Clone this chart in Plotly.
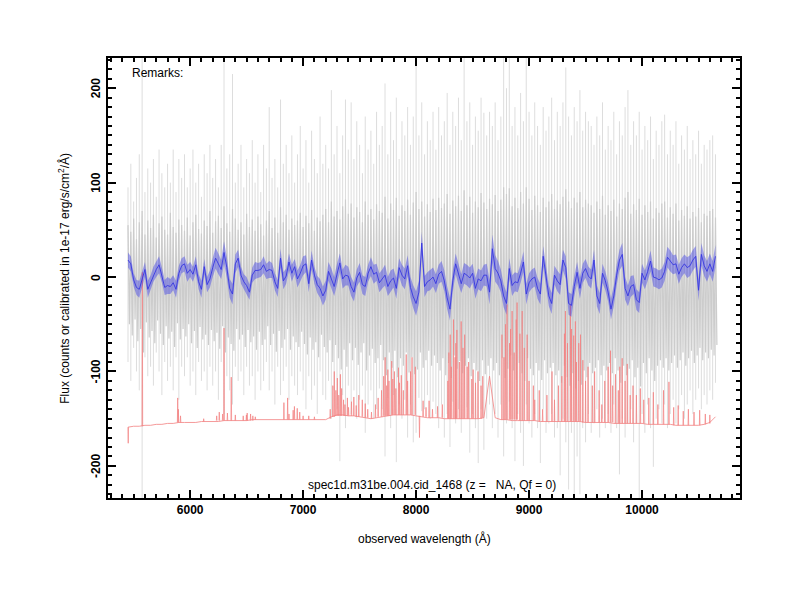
"""
Espectro 1D (DEIMOS) con flujo crudo, espectro suavizado y cielo escalado.
"""
import numpy as np
import plotly.graph_objects as go

# rejilla de longitudes de onda (Angstrom)
wave = np.arange(5450, 10651, 25)

# flujo crudo: extremos por bin (bigotes claros) y núcleo denso
grey_hi = [
    95, 120, 80, 105, 130, 232, 90, 115, 100, 125,
    85, 135, 110, 95, 120, 100, 135, 90, 125, 105,
    130, 95, 115, 135, 100, 120, 85, 130, 110, 140,
    105, 125, 95, 140, 232, 115, 130, 215, 100, 120,
    140, 95, 125, 110, 145, 100, 130, 90, 140, 115,
    180, 105, 125, 95, 188, 120, 140, 110, 150, 100,
    130, 160, 115, 145, 100, 155, 125, 110, 170, 120,
    140, 115, 198, 130, 160, 110, 150, 188, 135, 185,
    125, 165, 140, 110, 170, 135, 155, 120, 175, 140,
    160, 205, 130, 175, 145, 190, 125, 165, 150, 180,
    140, 170, 232, 150, 185, 130, 165, 145, 175, 135,
    180, 150, 165, 195, 140, 175, 160, 190, 145, 232,
    165, 185, 140, 170, 155, 190, 174, 150, 175, 160,
    185, 145, 170, 232, 200, 232, 160, 180, 150, 195,
    165, 232, 175, 150, 185, 160, 140, 180, 155, 170,
    190, 145, 175, 160, 185, 222, 170, 150, 180, 165,
    198, 155, 175, 165, 160, 140, 170, 150, 185, 135,
    160, 145, 175, 130, 165, 150, 180, 198, 140, 165,
    150, 175, 135, 160, 145, 170, 125, 155, 140, 165,
    172, 130, 155, 140, 165, 120, 150, 135, 160, 125,
    145, 130, 155, 120, 140, 135, 145, 150, 130,
]
grey_lo = [
    -90, -110, -75, -100, -120, -235, -85, -105, -95, -115,
    -80, -100, -125, -90, -110, -95, -120, -85, -130, -95,
    -105, -85, -115, -100, -125, -90, -110, -100, -120, -95,
    -115, -100, -130, -90, -145, -105, -120, -135, -95, -110,
    -100, -125, -95, -115, -105, -130, -100, -120, -110, -90,
    -120, -100, -135, -95, -125, -110, -95, -130, -105, -115,
    -125, -100, -120, -140, -105, -130, -115, -145, -100, -125,
    -130, -110, -150, -120, -140, -195, -125, -160, -115, -145,
    -120, -150, -130, -115, -165, -135, -120, -150, -140, -118,
    -140, -190, -128, -160, -125, -196, -135, -150, -130, -170,
    -135, -175, -165, -128, -142, -140, -125, -150, -132, -145,
    -160, -135, -170, -145, -180, -132, -155, -140, -165, -150,
    -138, -186, -145, -160, -197, -140, -183, -150, -135, -160,
    -145, -170, -135, -190, -155, -132, -160, -195, -145, -165,
    -200, -135, -155, -170, -145, -160, -197, -140, -165, -155,
    -145, -170, -160, -210, -150, -175, -225, -165, -234, -190,
    -230, -160, -175, -145, -165, -155, -140, -170, -150, -160,
    -145, -165, -135, -160, -209, -150, -170, -155, -140, -175,
    -155, -234, -145, -165, -135, -160, -201, -150, -140, -155,
    -135, -160, -145, -130, -155, -140, -125, -150, -135, -120,
    -145, -130, -118, -140, -125, -135, -120, -130, -112,
]
core_hi = [
    55, 48, 62, 40, 58, 70, 45, 60, 52, 66,
    42, 57, 64, 50, 45, 68, 53, 47, 61, 55,
    49, 63, 44, 58, 66, 51, 46, 60, 54, 70,
    47, 59, 65, 52, 75, 57, 48, 72, 62, 50,
    58, 45, 67, 53, 61, 49, 64, 56, 44, 60,
    70, 52, 63, 47, 74, 58, 66, 50, 62, 55,
    60, 68, 53, 65, 57, 71, 49, 63, 59, 66,
    72, 58, 80, 64, 70, 61, 75, 82, 67, 78,
    63, 74, 69, 58, 80, 66, 72, 61, 77, 70,
    68, 85, 62, 78, 71, 84, 65, 76, 70, 82,
    66, 79, 90, 72, 80, 64, 77, 69, 83, 71,
    84, 73, 78, 88, 67, 81, 75, 86, 70, 92,
    76, 85, 68, 80, 74, 89, 79, 72, 83, 77,
    87, 70, 82, 95, 88, 94, 75, 84, 73, 90,
    78, 95, 83, 71, 86, 76, 69, 84, 74, 80,
    88, 72, 81, 77, 85, 93, 80, 73, 84, 79,
    90, 74, 82, 78, 76, 68, 80, 72, 86, 66,
    76, 70, 82, 64, 78, 72, 84, 90, 67, 77,
    71, 83, 66, 76, 69, 80, 62, 73, 68, 78,
    80, 63, 74, 67, 78, 60, 71, 65, 75, 62,
    69, 64, 73, 58, 67, 65, 70, 72, 63,
]
core_lo = [
    -50, -62, -45, -68, -55, -80, -48, -64, -57, -70,
    -46, -60, -72, -52, -65, -58, -74, -49, -66, -55,
    -63, -50, -70, -57, -75, -53, -66, -61, -72, -56,
    -68, -59, -76, -52, -80, -64, -71, -78, -55, -66,
    -61, -74, -56, -69, -63, -77, -58, -72, -66, -52,
    -72, -60, -79, -57, -75, -66, -55, -77, -63, -69,
    -74, -58, -71, -82, -64, -77, -69, -85, -61, -74,
    -80, -67, -90, -72, -86, -98, -77, -95, -70, -88,
    -75, -93, -80, -70, -99, -83, -76, -91, -86, -72,
    -88, -104, -80, -96, -78, -106, -86, -94, -80, -101,
    -85, -103, -98, -80, -96, -88, -78, -94, -83, -91,
    -99, -86, -104, -91, -107, -83, -97, -89, -102, -94,
    -86, -105, -91, -99, -110, -88, -103, -94, -86, -99,
    -91, -104, -86, -107, -97, -83, -99, -109, -91, -102,
    -110, -86, -97, -104, -91, -99, -109, -88, -102, -96,
    -91, -104, -99, -112, -94, -106, -115, -102, -118, -110,
    -114, -99, -106, -91, -102, -96, -88, -104, -94, -99,
    -91, -102, -86, -99, -112, -94, -104, -97, -88, -106,
    -96, -116, -91, -102, -86, -99, -110, -94, -88, -96,
    -86, -99, -91, -83, -96, -88, -80, -94, -86, -78,
    -91, -83, -75, -88, -80, -86, -77, -83, -72,
]

# espectro suavizado y su error
smooth_flux = [
    18, 14, -3, -11, -13, -3, 8, -13, -6, 3,
    8, 13, 2, -11, -9, -10, -6, -13, 4, 12,
    14, 4, 8, 3, 13, -5, -13, 11, -8, -2,
    10, 20, 14, 8, 26, 10, -12, -18, 14, 20,
    2, -5, -9, -16, 2, 7, 7, 8, 13, 6,
    8, 7, -5, -12, 20, -4, 1, 16, 4, 11,
    -2, 4, 12, 14, -7, 18, 2, -8, -12, -20,
    -14, 6, -2, -10, 3, 15, -2, 2, 1, -10,
    -16, -1, 5, -8, -10, 4, 11, 3, 5, -6,
    -2, 2, -10, -4, -1, -12, 10, 2, -2, 12,
    -11, -21, -28, -16, 36, -10, -5, -3, 0, -7,
    3, 6, -4, -22, -34, -4, 14, 3, -7, 4,
    2, -1, 4, -12, -2, -4, 2, 2, -16, 30,
    9, 4, -4, -20, -28, 9, -9, -5, -6, 4,
    16, -18, -6, -2, 0, -12, -18, 22, 0, -20,
    -28, 2, -4, -8, 18, 10, -28, -30, -10, 5,
    -12, 4, 9, 1, -2, 18, -20, -28, 4, -4,
    -16, -34, -20, 2, 18, 24, -12, -20, -10, -8,
    -24, -27, 4, -3, 6, 17, 0, -1, -3, -1,
    6, 21, 17, 13, 14, 3, 10, 14, 10, 12,
    18, 22, -14, 24, 12, 6, 14, 6, 22,
]
smooth_err = [
    8, 8, 7, 8, 9, 8, 8, 9, 8, 8,
    8, 9, 8, 8, 9, 8, 8, 9, 8, 8,
    8, 9, 8, 8, 9, 8, 9, 8, 8, 9,
    10, 11, 11, 10, 12, 11, 10, 11, 10, 9,
    9, 8, 9, 8, 8, 9, 8, 8, 9, 8,
    9, 8, 9, 9, 10, 9, 8, 9, 9, 8,
    9, 9, 10, 9, 9, 10, 9, 9, 10, 10,
    10, 10, 11, 10, 11, 10, 10, 11, 10, 10,
    10, 9, 10, 10, 10, 9, 10, 10, 9, 10,
    10, 11, 10, 11, 10, 11, 10, 11, 11, 11,
    11, 12, 13, 12, 12, 11, 10, 11, 10, 10,
    10, 11, 11, 12, 12, 11, 11, 11, 10, 11,
    11, 11, 10, 11, 11, 11, 11, 12, 13, 15,
    14, 13, 12, 12, 12, 11, 11, 10, 10, 10,
    11, 11, 10, 10, 10, 11, 11, 11, 10, 11,
    11, 10, 11, 11, 11, 12, 12, 12, 11, 11,
    11, 10, 10, 10, 10, 11, 11, 11, 10, 10,
    10, 11, 11, 11, 11, 12, 12, 11, 11, 10,
    11, 11, 10, 10, 10, 11, 10, 10, 10, 10,
    10, 11, 11, 10, 10, 10, 10, 10, 11, 11,
    11, 11, 11, 12, 11, 11, 11, 11, 12,
]

# cielo escalado: continuo cada 50 A + líneas (onda, base, pico)
sky_wave = np.arange(5450, 10651, 50)
sky_cont = [
    -159, -158, -158, -157, -157, -156, -156, -155, -155, -154, -154,
    -154, -154, -153, -153, -153, -153, -152, -152, -152, -152,
    -152, -151, -151, -151, -151, -151, -151, -151, -151, -151,
    -151, -151, -151, -151, -151, -148, -146, -146, -147, -147,
    -148, -149, -150, -149, -148, -147, -146, -146, -146, -146,
    -147, -148, -149, -149, -149, -150, -150, -150, -150, -150,
    -150, -150, -149, -105, -149, -151, -151, -152, -152, -152,
    -152, -152, -153, -153, -153, -153, -153, -153, -153, -153,
    -154, -154, -154, -154, -154, -155, -155, -155, -155, -155,
    -155, -156, -156, -156, -156, -156, -157, -157, -157, -157,
    -157, -156, -154, -148,
]
sky_lines = [
    (5452, -159, -176), (5577, -158, 5), (5890, -154, -128), (5896, -154, -140),
    (5915, -154, -147), (6120, -153, -150), (6235, -152, -147), (6258, -152, -143),
    (6288, -152, -145), (6300, -152, -54), (6330, -152, -144), (6364, -152, -106),
    (6400, -152, -146), (6470, -152, -147), (6498, -152, -146), (6505, -152, -144),
    (6535, -152, -145), (6555, -152, -147), (6577, -151, -148), (6830, -151, -133),
    (6863, -151, -128), (6875, -151, -145), (6912, -151, -141), (6923, -151, -137),
    (6948, -151, -139), (6970, -151, -143), (7000, -151, -147), (7050, -151, -147),
    (7100, -151, -148), (7240, -150, -140), (7263, -148, -115), (7276, -148, -100),
    (7290, -147, -120), (7303, -147, -107), (7316, -147, -125), (7330, -147, -103),
    (7341, -147, -118), (7358, -147, -130), (7370, -147, -135), (7392, -147, -128),
    (7402, -147, -138), (7428, -147, -132), (7449, -147, -127), (7470, -148, -136),
    (7493, -148, -125), (7524, -148, -130), (7550, -149, -134), (7572, -149, -140),
    (7605, -150, -143), (7640, -149, -135), (7664, -148, -128), (7694, -148, -120),
    (7713, -147, -105), (7726, -147, -85), (7740, -147, -115), (7750, -147, -98),
    (7760, -147, -110), (7784, -146, -89), (7794, -146, -108), (7808, -146, -100),
    (7821, -146, -118), (7844, -146, -96), (7853, -146, -112), (7869, -146, -104),
    (7887, -146, -120), (7913, -146, -82), (7925, -146, -110), (7951, -146, -100),
    (7964, -146, -85), (7993, -146, -95), (8030, -147, -170), (8062, -148, -131),
    (8088, -148, -138), (8115, -149, -131), (8145, -149, -140), (8190, -149, -137),
    (8232, -149, -135), (8281, -150, -110), (8290, -150, -80), (8302, -150, -61),
    (8312, -150, -95), (8331, -150, -45), (8345, -150, -85), (8352, -150, -70),
    (8361, -150, -56), (8383, -150, -90), (8399, -150, -47), (8415, -150, -75),
    (8430, -150, -61), (8452, -150, -95), (8465, -150, -90), (8493, -150, -108),
    (8505, -150, -98), (8526, -150, -112), (8548, -150, -100), (8575, -150, -115),
    (8590, -149, -105), (8760, -151, -61), (8778, -151, -85), (8791, -151, -50),
    (8805, -151, -29), (8827, -151, -70), (8836, -151, -55), (8850, -151, -36),
    (8868, -151, -80), (8886, -151, -45), (8894, -151, -27), (8919, -152, -60),
    (8939, -152, -36), (8958, -152, -75), (8983, -152, -61), (9000, -152, -110),
    (9038, -152, -115), (9050, -152, -130), (9090, -153, -120), (9120, -153, -140),
    (9158, -153, -125), (9203, -153, -100), (9225, -153, -130), (9260, -153, -115),
    (9290, -153, -105), (9313, -153, -60), (9322, -153, -36), (9340, -153, -70),
    (9366, -153, -29), (9376, -153, -55), (9395, -153, -62), (9410, -153, -47),
    (9419, -153, -90), (9440, -153, -70), (9455, -153, -61), (9476, -154, -88),
    (9500, -154, -110), (9522, -154, -95), (9560, -154, -115), (9580, -154, -100),
    (9620, -154, -120), (9644, -154, -135), (9670, -154, -110), (9700, -154, -95),
    (9721, -154, -78), (9740, -154, -115), (9765, -155, -103), (9790, -155, -120),
    (9803, -155, -95), (9824, -155, -86), (9850, -155, -110), (9869, -155, -92),
    (9895, -155, -125), (9920, -155, -115), (9950, -155, -125), (9985, -155, -118),
    (10015, -155, -130), (10060, -156, -128), (10100, -156, -122), (10140, -156, -135),
    (10190, -156, -120), (10238, -156, -111), (10280, -157, -138), (10320, -157, -136),
    (10365, -157, -142), (10410, -157, -140), (10460, -157, -143), (10510, -157, -141),
    (10560, -156, -145), (10600, -155, -146),
]

x_ticks = [6000, 7000, 8000, 9000, 10000]
y_ticks = [-200, -100, 0, 100, 200]
title_text = "spec1d.m31be.004.cid_1468 (z =\u00a0\u00a0 NA, Qf = 0)"
x_title = "observed wavelength (Å)"
y_title = "Flux (counts or calibrated in 1e-17 erg/s/cm<sup>2</sup>/Å)"
FONT = "Liberation Sans, Arial, Helvetica, sans-serif"
RED = "rgb(242,128,128)"


def segments(xs, lo, hi):
    """Segmentos verticales lo->hi por bin, separados con None."""
    sx, sy = [], []
    for w, a, b in zip(xs, lo, hi):
        sx += [w, w, None]
        sy += [a, b, None]
    return sx, sy


def zigzag(xs, lo, hi, half=12.5):
    """Línea continua que alterna entre el máximo y el mínimo de cada bin."""
    zx, zy = [], []
    for w, a, b in zip(xs, lo, hi):
        zx += [w, w + half]
        zy += [b, a]
    return zx, zy


fig = go.Figure()

# flujo crudo en gris
gx, gy = segments(wave, grey_lo, grey_hi)
fig.add_trace(go.Scatter(x=gx, y=gy, mode="lines",
                         line=dict(color="#d9d9d9", width=0.9)))
cx, cy = zigzag(wave, core_lo, core_hi)
fig.add_trace(go.Scatter(x=cx, y=cy, mode="lines",
                         line=dict(color="#cccccc", width=1.2)))

# cielo en rojo
fig.add_trace(go.Scatter(x=sky_wave, y=sky_cont, mode="lines",
                         line=dict(color=RED, width=0.8)))
lx, ly = [], []
for w, base, peak in sky_lines:
    lx += [w - 3, w, w + 3, None]
    ly += [base, peak, base, None]
fig.add_trace(go.Scatter(x=lx, y=ly, mode="lines",
                         line=dict(color=RED, width=0.7)))

# espectro suavizado con banda de error
upper = [f + e for f, e in zip(smooth_flux, smooth_err)]
lower = [f - e for f, e in zip(smooth_flux, smooth_err)]
fig.add_trace(go.Scatter(x=wave, y=upper, mode="lines", line=dict(width=0)))
fig.add_trace(go.Scatter(x=wave, y=lower, mode="lines", line=dict(width=0),
                         fill="tonexty", fillcolor="rgba(40,40,235,0.38)"))
fig.add_trace(go.Scatter(x=wave, y=smooth_flux, mode="lines",
                         line=dict(color="rgba(50,50,225,0.85)", width=1)))

axis_common = dict(
    showline=True, linewidth=2, linecolor="black", mirror="ticks",
    ticks="inside", ticklen=8, tickwidth=2, tickcolor="black",
    showgrid=False, zeroline=False,
    tickfont=dict(family=FONT, size=12, color="black", weight="bold"),
)

# etiquetas del eje y giradas, como texto fijo junto al eje
annotations = [
    dict(text=str(v), xref="paper", yref="y", x=-0.019, y=v,
         xanchor="center", yanchor="middle", textangle=-90, showarrow=False,
         font=dict(family=FONT, size=12, color="black", weight="bold"))
    for v in y_ticks
]
annotations += [
    dict(text="Remarks:", xref="paper", yref="paper", x=0.035, y=0.965,
         xanchor="left", yanchor="middle", showarrow=False,
         font=dict(family=FONT, size=12)),
    dict(text=title_text, xref="paper", yref="paper", x=0.513, y=0.03,
         xanchor="center", yanchor="middle", showarrow=False,
         font=dict(family=FONT, size=12)),
    dict(text=x_title, xref="paper", yref="paper", x=0.5, y=-0.093,
         xanchor="center", yanchor="middle", showarrow=False,
         font=dict(family=FONT, size=12)),
    dict(text=y_title, xref="paper", yref="paper", x=-0.07, y=0.5,
         xanchor="center", yanchor="middle", textangle=-90,
         showarrow=False, font=dict(family=FONT, size=12)),
]

fig.update_layout(
    width=800, height=600,
    margin=dict(l=100, r=68, t=50, b=110),
    paper_bgcolor="white", plot_bgcolor="white",
    showlegend=False, hovermode=False,
    font=dict(family=FONT, size=12, color="black"),
    xaxis=dict(
        range=[5273, 10867], tickvals=x_ticks, tickformat="d",
        minor=dict(ticks="inside", ticklen=4, tickwidth=1.5, dtick=100,
                   tick0=5000, tickcolor="black"),
        **axis_common,
    ),
    yaxis=dict(
        range=[-234, 232], tickvals=y_ticks, showticklabels=False,
        minor=dict(ticks="inside", ticklen=4, tickwidth=1.5, dtick=10,
                   tick0=0, tickcolor="black"),
        **axis_common,
    ),
    annotations=annotations,
)

fig.write_html("out.html")
